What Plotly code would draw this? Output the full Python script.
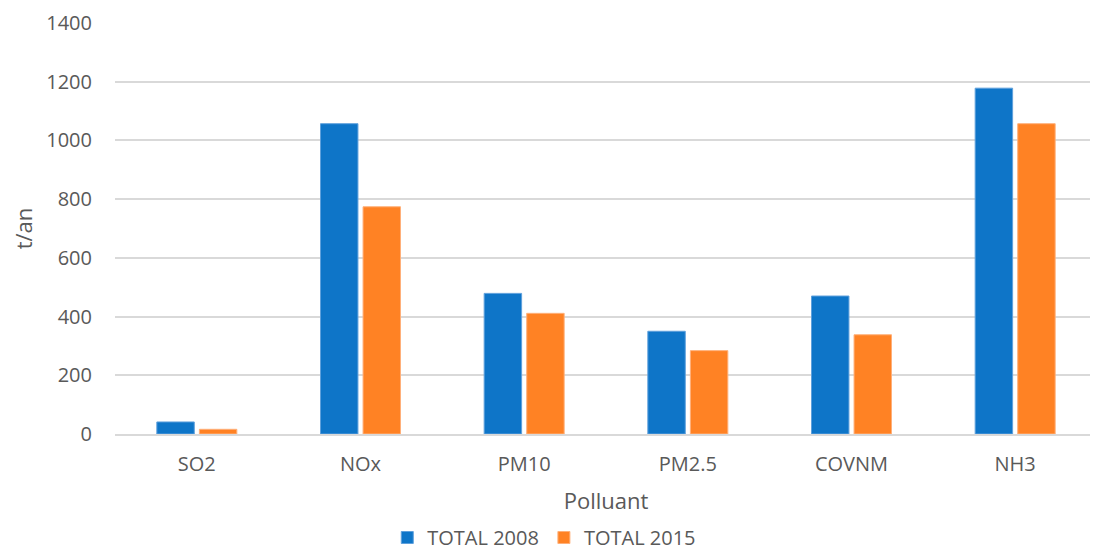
import plotly.graph_objects as go

categories = ["SO2", "NOx", "PM10", "PM2.5", "COVNM", "NH3"]
total_2008 = [41, 1057, 479, 350, 470, 1178]
total_2015 = [16, 774, 411, 284, 338, 1057]
y_ticks = [0, 200, 400, 600, 800, 1000, 1200, 1400]

font_family = "Open Sans, Liberation Sans, sans-serif"
grey = "#595959"

fig = go.Figure()
fig.add_trace(go.Bar(x=categories, y=total_2008, name="TOTAL 2008",
                     marker=dict(color="#0E75C8", line=dict(color="#5FA0DC", width=1))))
fig.add_trace(go.Bar(x=categories, y=total_2015, name="TOTAL 2015",
                     marker=dict(color="#FF8224", line=dict(color="#FFB07A", width=1))))

fig.update_layout(
    width=1090, height=549,
    margin=dict(l=107, r=1, t=15, b=123, autoexpand=False),
    paper_bgcolor="white", plot_bgcolor="white",
    barmode="group", bargap=0.48, bargroupgap=0.12,
    font=dict(family=font_family, color=grey, size=20),
    showlegend=True,
    legend=dict(orientation="h", x=0.492, xanchor="center", xref="container",
                y=0.0, yanchor="bottom", yref="container",
                font=dict(size=20, color=grey), traceorder="normal",
                itemwidth=30, tracegroupgap=10),
    xaxis=dict(title=dict(text="Polluant", font=dict(size=22, color=grey), standoff=18),
               automargin=False,
               showgrid=False, showline=True, linecolor="#D9D9D9", linewidth=2,
               ticks="", tickfont=dict(size=20, color=grey), ticklabelstandoff=11),
    yaxis=dict(title=dict(text="t/an", font=dict(size=22, color=grey), standoff=14),
               automargin=False,
               range=[0, 1400], tickvals=y_ticks, showgrid=True, gridcolor="#D9D9D9",
               gridwidth=1.5, zeroline=False, showline=False, ticks="",
               tickfont=dict(size=20, color=grey), ticklabelstandoff=22),
)
fig.write_html("out.html")
